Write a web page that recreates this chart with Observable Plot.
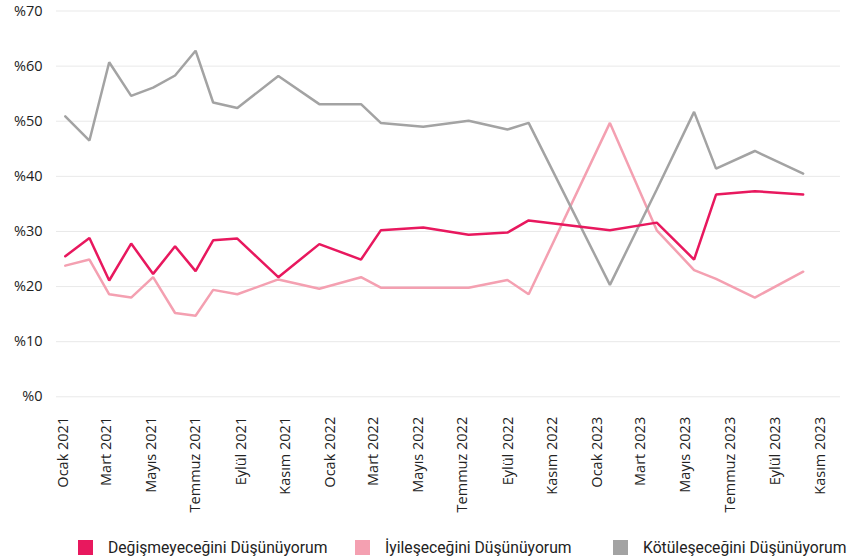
<!DOCTYPE html>
<html>
<head>
<meta charset="utf-8">
<script src="https://cdn.jsdelivr.net/npm/d3@7"></script>
<script src="https://cdn.jsdelivr.net/npm/@observablehq/plot@0.6"></script>
<style>
  html, body { margin: 0; padding: 0; background: #fff; }
  #chart svg { display: block; }
  #legend { position: relative; height: 32px; font-family: Roboto, sans-serif; font-size: 15.7px; color: #222; }
  .item { position: absolute; top: 12px; height: 15px; display: flex; align-items: center; white-space: nowrap; }
  .sw { width: 15px; height: 15px; margin-right: 15px; flex: none; }
</style>
</head>
<body>
<div id="chart"></div>
<div id="legend"></div>
<script>
// Survey dates (x)
const dates = [
  "2021-01-04","2021-02-06","2021-03-05","2021-04-04","2021-05-04","2021-06-03",
  "2021-07-01","2021-07-25","2021-08-27","2021-10-22","2021-12-17","2022-02-12",
  "2022-03-11","2022-05-08","2022-07-09","2022-08-31","2022-09-29","2023-01-18",
  "2023-03-23","2023-05-13","2023-06-12","2023-08-04","2023-10-09"
];
// Series values (%)
const degismeyecek = [25.5,28.8,21.1,27.8,22.3,27.3,22.8,28.4,28.7,21.7,27.7,24.9,30.2,30.7,29.4,29.8,32.0,30.2,31.6,24.9,36.7,37.3,36.7];
const iyilesecek   = [23.8,24.9,18.6,18.0,21.7,15.2,14.7,19.4,18.6,21.3,19.6,21.7,19.8,19.8,19.8,21.2,18.6,49.7,30.2,23.0,21.4,18.0,22.7];
const kotulesecek  = [50.9,46.5,60.7,54.6,56.1,58.3,62.8,53.4,52.4,58.2,53.1,53.1,49.7,49.0,50.1,48.5,49.7,20.3,37.6,51.7,41.4,44.6,40.5];

const seriesNames  = ["Değişmeyeceğini Düşünüyorum", "İyileşeceğini Düşünüyorum", "Kötüleşeceğini Düşünüyorum"];
const seriesColors = ["#e8185e", "#f4a0b1", "#a3a3a3"];
const monthNames = ["Ocak","Şubat","Mart","Nisan","Mayıs","Haziran","Temmuz","Ağustos","Eylül","Ekim","Kasım","Aralık"];
const yTicks = [0, 10, 20, 30, 40, 50, 60, 70];
const xDomain = ["2020-12-23", "2023-11-29"];
const xTickStart = "2021-01-01", xTickEnd = "2023-12-01";

const seriesValues = [degismeyecek, iyilesecek, kotulesecek];
const data = [];
seriesValues.forEach((vals, s) => {
  vals.forEach((v, i) => {
    if (v != null) data.push({ series: seriesNames[s], date: new Date(dates[i]), value: v });
  });
});

const xTicks = d3.utcMonth.every(2).range(new Date(xTickStart), new Date(xTickEnd));
const font = "'Open Sans', Lato, sans-serif";

const chart = Plot.plot({
  width: 848,
  height: 528,
  marginTop: 10.5,
  marginLeft: 56,
  marginRight: 8,
  marginBottom: 131.7,
  style: { fontFamily: font, fontSize: "14.5px", color: "#222", background: "#fff" },
  x: { type: "utc", domain: xDomain.map(d => new Date(d)) },
  y: { domain: [0, 70] },
  color: { domain: seriesNames, range: seriesColors },
  marks: [
    Plot.gridY(yTicks, { stroke: "#e9e9e9", strokeOpacity: 1, strokeWidth: 1 }),
    Plot.axisY(yTicks, { tickFormat: d => "%" + d, tickSize: 0, tickPadding: 14, label: null, fontSize: 14.5 }),
    Plot.axisX(xTicks, {
      tickFormat: d => monthNames[d.getUTCMonth()] + " " + d.getUTCFullYear(),
      tickRotate: -90, tickSize: 0, tickPadding: 20, label: null, fontSize: 14.5
    }),
    Plot.line(data, {
      x: "date", y: "value", z: "series", stroke: "series",
      strokeWidth: 2.5, strokeLinejoin: "miter", curve: "linear",
      sort: { channel: "-z" }
    })
  ]
});
document.getElementById("chart").append(chart);

const legend = document.getElementById("legend");
const legendLefts = [78, 355, 613];
seriesNames.forEach((name, i) => {
  const item = document.createElement("div");
  item.className = "item";
  item.style.left = legendLefts[i] + "px";
  const sw = document.createElement("span");
  sw.className = "sw";
  sw.style.background = seriesColors[i];
  const t = document.createElement("span");
  t.textContent = name;
  item.append(sw, t);
  legend.append(item);
});
</script>
</body>
</html>
